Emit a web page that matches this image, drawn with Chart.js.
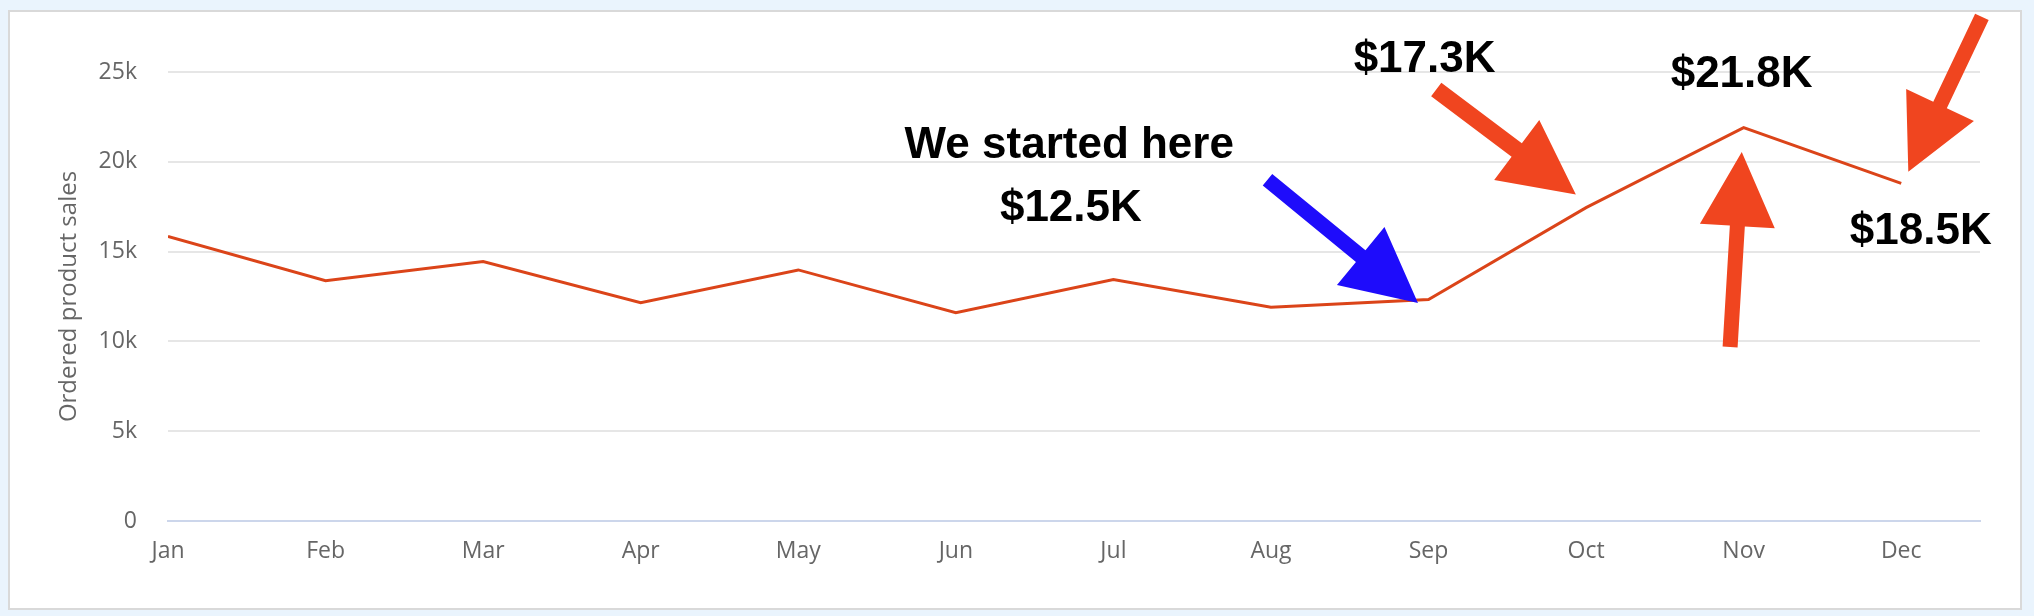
<!DOCTYPE html>
<html>
  <head>
    <meta charset="UTF-8" />
    <title>ordered product sales</title>
    <script src="https://cdn.jsdelivr.net/npm/chart.js@4.4.1/dist/chart.umd.min.js"></script>
    <style>
      html, body { margin: 0; padding: 0; background: #eaf4fd; width: 2034px; height: 616px; overflow: hidden; }
      .panel { position: absolute; left: 8px; top: 10px; width: 2014px; height: 600px; box-sizing: border-box;
               border: 2px solid #d9d9d9; background: #ffffff; }
      #chart { position: absolute; left: 0; top: 0; }
    </style>
  </head>
  <body>
    <div class="panel"></div>
    <canvas id="chart" width="2034" height="616"></canvas>
    <script>
      const months = ['Jan', 'Feb', 'Mar', 'Apr', 'May', 'Jun', 'Jul', 'Aug', 'Sep', 'Oct', 'Nov', 'Dec']
      const sales = [15850, 13380, 14450, 12150, 13980, 11600, 13450, 11900, 12330, 17450, 21900, 18800]
      const yTicks = [0, 5000, 10000, 15000, 20000, 25000]

      // callouts, placed in data units (month index, sales value)
      const noteTexts = ['We started here', '$12.5K', '$17.3K', '$21.8K', '$18.5K']
      const noteX = [5.72, 5.73, 7.975, 9.987, 11.124]
      const noteY = [20220, 16720, 25020, 24180, 15410]

      const arrowColors = ['#1e0cfb', '#f0451f', '#f0451f', '#f0451f']
      const arrowFrom = [[6.978, 19000], [8.049, 24030], [9.914, 9690], [11.512, 28070]]
      const arrowTo = [[7.933, 12140], [8.935, 18180], [9.988, 20540], [11.045, 19440]]
      const arrowShaft = [15, 17, 15, 15]

      const callouts = {
        id: 'callouts',
        afterDraw (chart) {
          const ctx = chart.ctx
          const xs = chart.scales.x
          const ys = chart.scales.y
          ctx.save()
          for (let i = 0; i < arrowFrom.length; i++) {
            const x1 = xs.getPixelForValue(arrowFrom[i][0])
            const y1 = ys.getPixelForValue(arrowFrom[i][1])
            const x2 = xs.getPixelForValue(arrowTo[i][0])
            const y2 = ys.getPixelForValue(arrowTo[i][1])
            const len = Math.hypot(x2 - x1, y2 - y1)
            const ux = (x2 - x1) / len
            const uy = (y2 - y1) / len
            const nx = -uy
            const ny = ux
            const headLen = 74
            const headW = 75
            const sw = arrowShaft[i] / 2
            const bx = x2 - ux * headLen
            const by = y2 - uy * headLen
            ctx.fillStyle = arrowColors[i]
            ctx.beginPath()
            ctx.moveTo(x1 + nx * sw, y1 + ny * sw)
            ctx.lineTo(bx + nx * sw, by + ny * sw)
            ctx.lineTo(bx + nx * headW / 2, by + ny * headW / 2)
            ctx.lineTo(x2, y2)
            ctx.lineTo(bx - nx * headW / 2, by - ny * headW / 2)
            ctx.lineTo(bx - nx * sw, by - ny * sw)
            ctx.lineTo(x1 - nx * sw, y1 - ny * sw)
            ctx.closePath()
            ctx.fill()
          }
          ctx.fillStyle = '#000000'
          ctx.font = 'bold 44px "Liberation Sans", Arial, sans-serif'
          ctx.textAlign = 'center'
          ctx.textBaseline = 'alphabetic'
          for (let i = 0; i < noteTexts.length; i++) {
            ctx.fillText(noteTexts[i], xs.getPixelForValue(noteX[i]), ys.getPixelForValue(noteY[i]))
          }
          ctx.restore()
        }
      }

      const draw = function () {
        const context = document.querySelector('#chart').getContext('2d')
        window.chart = new Chart(context, {
          type: 'line',
          data: {
            datasets: [{
              label: 'Ordered product sales',
              data: sales.map((v, i) => ({ x: i, y: v })),
              borderColor: '#db4419',
              borderWidth: 3,
              pointRadius: 0,
              tension: 0,
              fill: false
            }]
          },
          options: {
            responsive: false,
            animation: false,
            devicePixelRatio: 1,
            layout: { padding: { top: 72, right: 54, bottom: 0, left: 0 } },
            plugins: { legend: { display: false }, tooltip: { enabled: false } },
            scales: {
              x: {
                type: 'linear',
                min: 0,
                max: 11.5,
                afterFit (scale) { scale.height = 95 },
                afterBuildTicks (scale) { scale.ticks = months.map((m, i) => ({ value: i })) },
                grid: { display: false, drawTicks: false },
                border: { display: true, color: '#ccd6eb', width: 2 },
                ticks: {
                  padding: 17,
                  color: '#666666',
                  font: { family: '"Open Sans", "DejaVu Sans", sans-serif', size: 23 },
                  callback: (v) => months[v] || ''
                }
              },
              y: {
                min: 0,
                max: 25000,
                afterFit (scale) { scale.width = 168 },
                afterBuildTicks (scale) { scale.ticks = yTicks.map((v) => ({ value: v })) },
                grid: { color: '#e6e6e6', lineWidth: 2, drawTicks: false },
                border: { display: false },
                ticks: {
                  padding: 31,
                  color: '#666666',
                  font: { family: '"Open Sans", "DejaVu Sans", sans-serif', size: 23 },
                  callback: (v) => v === 0 ? '0' : (v / 1000) + 'k'
                },
                title: {
                  display: true,
                  text: 'Ordered product sales',
                  color: '#666666',
                  padding: { top: 55, bottom: 0 },
                  font: { family: '"Open Sans", "DejaVu Sans", sans-serif', size: 24, weight: 'normal' }
                }
              }
            }
          },
          plugins: [callouts]
        })
      }
      window.onload = function () {
        draw()
      }
    </script>
  </body>
</html>
